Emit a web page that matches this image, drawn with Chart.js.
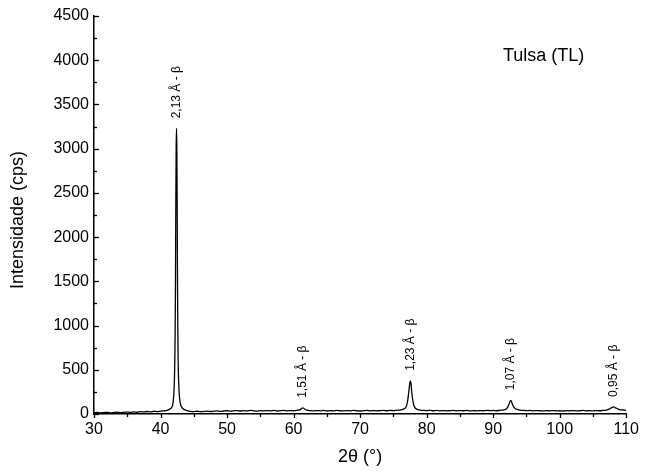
<!DOCTYPE html>
<html>
<head>
<meta charset="utf-8">
<script src="https://cdn.jsdelivr.net/npm/chart.js@4/dist/chart.umd.min.js"></script>
<style>
  html, body { margin: 0; padding: 0; background: #fff; }
  #wrap { width: 645px; height: 472px; position: relative; }
</style>
</head>
<body>
<div id="wrap"><canvas id="xrd"></canvas></div>
<script>
// --- Data ---
const twoTheta = [
  30, 30.5, 31, 31.5, 32, 32.5, 33, 33.5, 34, 34.5, 35, 35.5, 36, 36.5, 37, 37.5, 38, 38.5, 39, 39.5,
  40, 40.5, 41, 41.3, 41.6, 41.8, 41.9, 42.0, 42.1, 42.15, 42.2, 42.25, 42.3, 42.35, 42.4, 42.45, 42.5, 42.55, 42.6, 42.65,
  42.7, 42.8, 42.9, 43.0, 43.2, 43.5, 44, 44.5, 45, 45.5, 46, 46.5, 47, 47.5, 48, 48.5, 49, 49.5, 50, 50.5,
  51, 51.5, 52, 52.5, 53, 53.5, 54, 54.5, 55, 55.5, 56, 56.5, 57, 57.5, 58, 58.5, 59, 59.5, 60, 60.5,
  61, 61.2, 61.4, 61.6, 61.8, 62.2, 62.5, 63, 63.5, 64, 64.5, 65, 65.5, 66, 66.5, 67, 67.5, 68, 68.5, 69,
  69.5, 70, 70.5, 71, 71.5, 72, 72.5, 73, 73.5, 74, 74.5, 75, 75.5, 76, 76.5, 76.9, 77.1, 77.3, 77.45, 77.55,
  77.65, 77.8, 78.0, 78.2, 78.5, 79, 79.5, 80, 80.5, 81, 81.5, 82, 82.5, 83, 83.5, 84, 84.5, 85, 85.5, 86,
  86.5, 87, 87.5, 88, 88.5, 89, 89.5, 90, 90.5, 91, 91.5, 92, 92.3, 92.5, 92.65, 92.8, 93.0, 93.3, 93.7, 94,
  94.5, 95, 95.5, 96, 96.5, 97, 97.5, 98, 98.5, 99, 99.5, 100, 100.5, 101, 101.5, 102, 102.5, 103, 103.5, 104,
  104.5, 105, 105.5, 106, 106.5, 107, 107.5, 107.8, 108.1, 108.4, 108.7, 109, 109.5, 110
];
const counts = [
  14, 18, 12, 16, 19, 13, 17, 21, 15, 19, 22, 18, 24, 20, 26, 23, 28, 25, 31, 27,
  33, 36, 42, 52, 68, 95, 140, 230, 420, 620, 950, 1500, 2400, 3000, 3230, 3000, 2400, 1500, 950, 600,
  420, 240, 155, 110, 75, 52, 38, 30, 27, 31, 26, 29, 33, 28, 32, 35, 30, 34, 37, 32,
  36, 39, 34, 38, 35, 40, 36, 33, 38, 35, 39, 36, 40, 34, 38, 41, 36, 39, 37, 42,
  50, 62, 70, 60, 48, 41, 38, 35, 39, 36, 40, 34, 38, 36, 41, 37, 35, 39, 36, 40,
  37, 34, 38, 41, 36, 39, 35, 38, 40, 37, 41, 38, 42, 45, 55, 80, 130, 240, 340, 375,
  340, 220, 120, 75, 55, 45, 41, 38, 42, 37, 40, 36, 39, 35, 38, 41, 36, 39, 37, 40,
  35, 38, 36, 39, 37, 41, 38, 40, 37, 42, 45, 60, 95, 140, 155, 130, 90, 62, 50, 45,
  41, 38, 40, 36, 39, 37, 35, 38, 36, 39, 35, 37, 34, 38, 36, 39, 35, 37, 40, 36,
  38, 35, 39, 37, 41, 45, 58, 72, 80, 70, 58, 50, 45, 42
];

const xTicks = [30, 40, 50, 60, 70, 80, 90, 100, 110];
const yTicks = [0, 500, 1000, 1500, 2000, 2500, 3000, 3500, 4000, 4500];

// peak annotations: d-spacing label, peak position and peak height
const peakLabels = ['2,13 Å - β', '1,51 Å - β', '1,23 Å - β', '1,07 Å - β', '0,95 Å - β'];
const peakTheta = [42.4, 61.4, 77.55, 92.65, 108.1];
const peakTop = [3230, 70, 375, 155, 80];

const sampleName = 'Tulsa (TL)';
const xTitle = '2θ (°)';
const yTitle = 'Intensidade (cps)';

const FONT = '"Liberation Sans", Arial, sans-serif';

// --- Plugins ---
const axisDecor = {
  id: 'axisDecor',
  afterDraw(chart) {
    const { ctx, chartArea, scales } = chart;
    const x = scales.x, y = scales.y;
    ctx.save();
    ctx.strokeStyle = '#000';
    ctx.lineWidth = 1.3;

    // y ticks point inward
    for (let v = 0; v <= 4500; v += 250) {
      const py = Math.round(y.getPixelForValue(v)) + 0.5;
      const len = v % 500 === 0 ? 5 : 3;
      ctx.beginPath();
      ctx.moveTo(chartArea.left, py);
      ctx.lineTo(chartArea.left + len, py);
      ctx.stroke();
    }
    // x ticks point outward
    for (let v = 30; v <= 110; v += 5) {
      const px = Math.round(x.getPixelForValue(v)) + 0.5;
      const len = v % 10 === 0 ? 4 : 3;
      ctx.beginPath();
      ctx.moveTo(px, chartArea.bottom);
      ctx.lineTo(px, chartArea.bottom + len);
      ctx.stroke();
    }

    ctx.fillStyle = '#000';

    // peak labels, rotated
    ctx.font = '12px ' + FONT;
    ctx.textAlign = 'left';
    ctx.textBaseline = 'middle';
    peakLabels.forEach((txt, i) => {
      const px = x.getPixelForValue(peakTheta[i]);
      const py = y.getPixelForValue(peakTop[i]) - 10;
      ctx.save();
      ctx.translate(px, py);
      ctx.rotate(-Math.PI / 2);
      ctx.fillText(txt, 0, 0);
      ctx.restore();
    });

    // sample name
    ctx.font = '18px ' + FONT;
    ctx.textAlign = 'left';
    ctx.fillText(sampleName, chartArea.left + 409, chartArea.top + 40);

    // axis titles
    ctx.textAlign = 'center';
    ctx.fillText(xTitle, (chartArea.left + chartArea.right) / 2, 457);
    ctx.save();
    ctx.translate(18, 220);
    ctx.rotate(-Math.PI / 2);
    ctx.fillText(yTitle, 0, 0);
    ctx.restore();

    ctx.restore();
  }
};

// --- Chart ---
const ctx = document.getElementById('xrd').getContext('2d');
const xrdChart = new Chart(ctx, {
  type: 'line',
  data: {
    datasets: [{
      data: twoTheta.map((t, i) => ({ x: t, y: counts[i] })),
      borderColor: '#000',
      borderWidth: 1.3,
      borderJoinStyle: 'round',
      pointRadius: 0,
      cubicInterpolationMode: 'monotone', // also keeps Chart.js off its pixel-merging fast path
      fill: false
    }]
  },
  options: {
    responsive: true,
    maintainAspectRatio: false,
    animation: false,
    events: [],
    layout: { padding: { top: 16, right: 17, left: 0, bottom: 0 } },
    plugins: { legend: { display: false }, tooltip: { enabled: false } },
    scales: {
      x: {
        type: 'linear',
        min: 30,
        max: 110,
        afterFit: (scale) => { scale.height = 58; },
        afterBuildTicks: (scale) => { scale.ticks = xTicks.map(v => ({ value: v })); },
        grid: { display: false, drawTicks: false },
        border: { display: true, color: '#000', width: 1.5 },
        ticks: {
          color: '#000', padding: 6, maxRotation: 0,
          font: { family: FONT, size: 16 },
          callback: (v) => String(v)
        }
      },
      y: {
        type: 'linear',
        min: 0,
        max: 4500,
        afterFit: (scale) => { scale.width = 94; },
        afterBuildTicks: (scale) => { scale.ticks = yTicks.map(v => ({ value: v })); },
        grid: { display: false, drawTicks: false },
        border: { display: true, color: '#000', width: 1.5 },
        ticks: {
          color: '#000', padding: 5,
          font: { family: FONT, size: 16 },
          callback: (v) => String(v)
        }
      }
    }
  },
  plugins: [axisDecor]
});
</script>
</body>
</html>
